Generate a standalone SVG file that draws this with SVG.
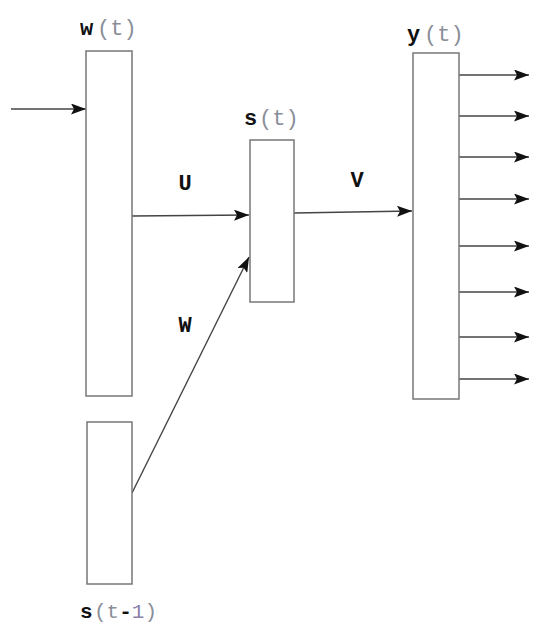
<svg xmlns="http://www.w3.org/2000/svg" width="559" height="631" viewBox="0 0 559 631">
<style>
.box{fill:#fff;stroke:#777;stroke-width:1.5}
.ln{stroke:#444;stroke-width:1.4;fill:none}
.lb{font-family:"Liberation Mono","DejaVu Sans Mono",monospace;font-size:22px}
.b{font-weight:bold;fill:#111}
.g{fill:#8a8e98}
.p{fill:#8a82aa}
</style>
<defs>
<marker id="ah" viewBox="0 0 15 11" refX="15" refY="5.5" markerWidth="15" markerHeight="11" markerUnits="userSpaceOnUse" orient="auto">
<path d="M0,0 L15,5.5 L0,11 L3,5.5 Z" fill="#111"/>
</marker>
</defs>
<rect width="559" height="631" fill="#fff"/>
<g id="connectors">
<line class="ln" x1="11" y1="109" x2="86" y2="109" marker-end="url(#ah)"/>
<line class="ln" x1="132" y1="216" x2="249" y2="215" marker-end="url(#ah)"/>
<line class="ln" x1="294" y1="213" x2="412" y2="211" marker-end="url(#ah)"/>
<line class="ln" x1="132" y1="493" x2="249" y2="257" marker-end="url(#ah)"/>
<line class="ln" x1="459" y1="75" x2="529" y2="75" marker-end="url(#ah)"/>
<line class="ln" x1="459" y1="116" x2="529" y2="116" marker-end="url(#ah)"/>
<line class="ln" x1="459" y1="157" x2="529" y2="157" marker-end="url(#ah)"/>
<line class="ln" x1="459" y1="199" x2="529" y2="199" marker-end="url(#ah)"/>
<line class="ln" x1="459" y1="246" x2="529" y2="246" marker-end="url(#ah)"/>
<line class="ln" x1="459" y1="292" x2="529" y2="292" marker-end="url(#ah)"/>
<line class="ln" x1="459" y1="337" x2="529" y2="337" marker-end="url(#ah)"/>
<line class="ln" x1="459" y1="379" x2="529" y2="379" marker-end="url(#ah)"/>
<text class="lb b" x="185" y="190" text-anchor="middle">U</text>
<text class="lb b" x="357" y="187" text-anchor="middle">V</text>
<text class="lb b" x="185" y="332" text-anchor="middle">W</text>
</g>
<g id="w_t">
<rect class="box" x="86" y="51" width="46" height="345"/>
<text class="lb" x="80" y="35"><tspan class="b">w</tspan><tspan class="g" x="97">(t)</tspan></text>
</g>
<g id="s_t">
<rect class="box" x="250" y="140" width="44" height="162"/>
<text class="lb" x="244" y="125"><tspan class="b">s</tspan><tspan class="g" x="259">(t)</tspan></text>
</g>
<g id="y_t">
<rect class="box" x="413" y="53" width="46" height="346"/>
<text class="lb" x="407" y="41"><tspan class="b">y</tspan><tspan class="g" x="424">(t)</tspan></text>
</g>
<g id="s_t1">
<rect class="box" x="87" y="422" width="45" height="162"/>
<text class="lb" x="80" y="618" style="font-size:21px"><tspan class="b">s</tspan><tspan class="g" x="94">(t</tspan><tspan class="b">-</tspan><tspan class="p">1</tspan><tspan class="g">)</tspan></text>
</g>
</svg>
